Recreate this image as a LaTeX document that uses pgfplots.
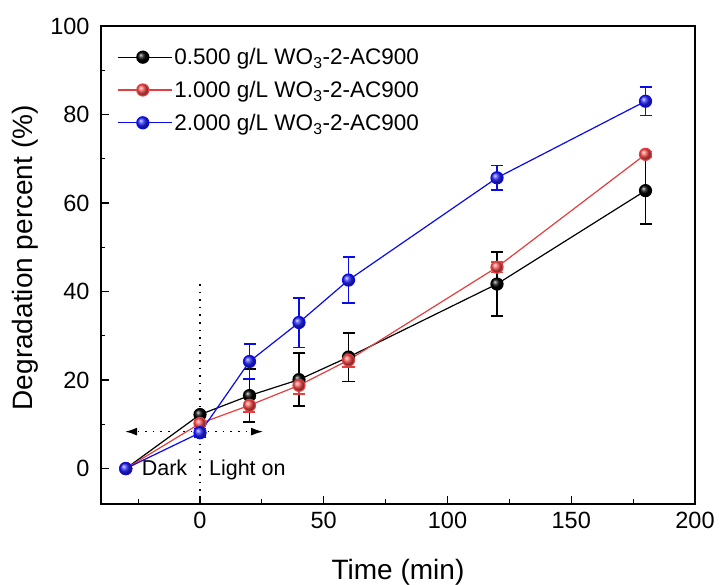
\documentclass[border=0pt]{standalone}
\usepackage{fontspec}
\setmainfont{Liberation Sans}
\usepackage{pgfplots}
\pgfplotsset{compat=1.18}
\usetikzlibrary{arrows.meta}
\definecolor{myred}{RGB}{228,62,62}
\definecolor{myblue}{RGB}{10,10,235}
\definecolor{redball}{RGB}{250,80,80}
\definecolor{blueball}{RGB}{40,40,255}
\pgfplotstableread{
x y e
-30 0 0
0 12.2 0.4
20 16.5 6.0
40 20.1 6.0
60 25.2 5.5
120 41.7 7.2
180 62.8 7.6
}\blackdata
\pgfplotstableread{
x y e
-30 0 0
0 10.2 0.5
20 14.3 1.5
40 18.8 1.9
60 24.5 1.5
120 45.5 1.2
180 71.0 0.6
}\reddata
\pgfplotstableread{
x y e
-30 0 0
0 8.1 1.0
20 24.2 4.0
40 33.0 5.6
60 42.6 5.2
120 65.7 2.8
180 83.0 3.2
}\bluedata
\begin{document}
\begin{tikzpicture}
\begin{axis}[
  scale only axis, width=594pt, height=478pt,
  xmin=-40, xmax=200, ymin=-8, ymax=100,
  xtick={0,50,...,200}, minor xtick={-25,25,75,125,175},
  ytick={0,20,...,100}, minor ytick={10,30,50,70,90},
  tick align=inside, xtick pos=left, ytick pos=left,
  major tick length=8pt, minor tick length=4.5pt,
  tick style={line width=1.2pt, black},
  axis line style={line width=1.3pt},
  ticklabel style={font=\fontsize{23.5}{28}\selectfont},
  xticklabel style={yshift=-5pt},
  yticklabel style={xshift=-8pt},
  /pgf/number format/assume math mode=true,
  xlabel={Time (min)}, ylabel={Degradation percent (\%)},
  xlabel style={at={(axis description cs:0.5,0)}, anchor=base, yshift=-76pt},
  ylabel style={at={(axis description cs:-0.1145,0.515)}, anchor=base},
  label style={font=\fontsize{28}{33}\selectfont},
  clip=false,
  legend style={at={(axis description cs:0.027,0.958)}, anchor=north west, draw=none, fill=none,
    font=\fontsize{22.5}{27}\selectfont, row sep=11pt, inner sep=0pt},
  legend cell align=left,
  legend image code/.code={\path (0pt,0pt) -- (54pt,0pt);\draw[mark repeat=2,mark phase=2] plot coordinates {(0pt,0pt)(25pt,0pt)(50pt,0pt)};},
]
\draw[line width=1.6pt, dash pattern=on 1.6pt off 6pt] (axis cs:0,41.7) -- (axis cs:0,-8);
\draw[line width=1.6pt, dash pattern=on 1.6pt off 6pt, -{Latex[length=12pt,width=8pt]}] (axis cs:0,8.35) -- (axis cs:-30.3,8.35);
\draw[line width=1.6pt, dash pattern=on 1.6pt off 6pt, -{Latex[length=12pt,width=8pt]}] (axis cs:0,8.35) -- (axis cs:25.5,8.35);
\node[anchor=base west, inner sep=0pt, font=\fontsize{21.5}{26}\selectfont] at (axis cs:-23.6,-1.6) {Dark};
\node[anchor=base west, inner sep=0pt, font=\fontsize{21.5}{26}\selectfont] at (axis cs:3.6,-1.6) {Light on};

\addplot[black, line width=1.2pt, mark=ball, mark size=6pt, mark options={ball color=black},
  error bars/.cd, y dir=both, y explicit,
  error bar style={line width=1.6pt, black},
  error mark options={rotate=90, mark size=6pt, line width=1.6pt, black}]
  table[x=x, y=y, y error=e] {\blackdata};
\addlegendentry{0.500 g/L WO\textsubscript{3}-2-AC900}
\addplot[myred, line width=1.2pt, mark=ball, mark size=6pt, mark options={ball color=redball},
  error bars/.cd, y dir=both, y explicit,
  error bar style={line width=1.6pt, myred},
  error mark options={rotate=90, mark size=6pt, line width=1.6pt, myred}]
  table[x=x, y=y, y error=e] {\reddata};
\addlegendentry{1.000 g/L WO\textsubscript{3}-2-AC900}
\addplot[myblue, line width=1.2pt, mark=ball, mark size=6pt, mark options={ball color=blueball},
  error bars/.cd, y dir=both, y explicit,
  error bar style={line width=1.6pt, myblue},
  error mark options={rotate=90, mark size=6pt, line width=1.6pt, myblue}]
  table[x=x, y=y, y error=e] {\bluedata};
\addlegendentry{2.000 g/L WO\textsubscript{3}-2-AC900}
\end{axis}
\pgfresetboundingbox
\path[use as bounding box] (-101pt,-81pt) rectangle (619pt,504pt);
\end{tikzpicture}
\end{document}
